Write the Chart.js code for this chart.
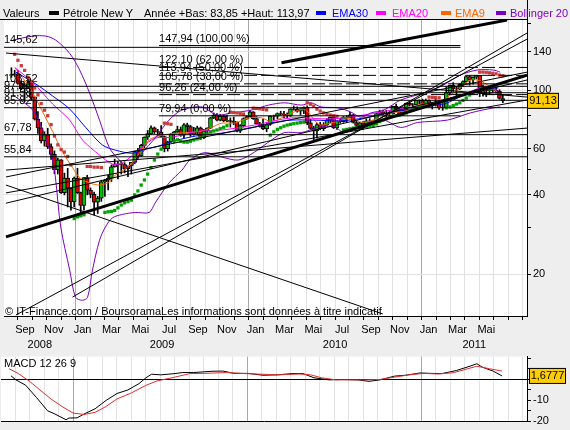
<!DOCTYPE html>
<html>
<head>
<meta charset="utf-8">
<script src="https://cdn.jsdelivr.net/npm/chart.js@4.4.1/dist/chart.umd.min.js"></script>
<style>
  body { margin: 0; background: #eeeeee; font-family: "Liberation Sans", Arial, sans-serif; }
  #wrap { position: relative; width: 570px; height: 430px; overflow: hidden; }
  canvas { position: absolute; left: 0; }
  .lg { position: absolute; top: 7px; font-size: 11px; line-height: 12px; white-space: nowrap; }
  .sw { position: absolute; top: 11px; width: 10px; height: 4px; }
</style>
</head>
<body>
<div id="wrap">
  <canvas id="main" width="570" height="352" style="top:0;width:570px;height:352px"></canvas>
  <canvas id="macd" width="570" height="82" style="top:348px;width:570px;height:82px"></canvas>

  <div class="lg" style="left:3px">Valeurs</div>
  <div class="sw" style="left:49px;background:#000"></div>
  <div class="lg" style="left:63px">Pétrole New Y</div>
  <div class="lg" style="left:144px">Année +Bas: 83,85 +Haut: 113,97</div>
  <div class="sw" style="left:316px;background:#0000ff"></div>
  <div class="lg" style="left:332px;color:#0000ff">EMA30</div>
  <div class="sw" style="left:376px;background:#ff00ff"></div>
  <div class="lg" style="left:392px;color:#ff00ff">EMA20</div>
  <div class="sw" style="left:441px;background:#ff6600"></div>
  <div class="lg" style="left:455px;color:#ff6600">EMA9</div>
  <div class="sw" style="left:496px;background:#8000c0"></div>
  <div class="lg" style="left:510px;color:#8000c0">Bollinger 20 2</div>

  <div class="lg" style="left:5px;top:305px">© IT-Finance.com / BoursoramaLes informations sont données à titre indicatif</div>
  <div class="lg" style="left:4px;top:357px">MACD 12 26 9</div>
</div>

<script>
// weekly candles, first one on the week of 18 Aug 2008
const weekStart = [2008, 7, 18];
const opens = [113.8,114.6,115.5,106.2,101.2,104.6,106.9,93.9,77.7,71.9,
  64.2,67.8,61.0,57.0,49.9,54.4,40.8,46.3,42.4,37.7,
  46.3,40.8,36.5,46.5,41.7,40.2,37.5,38.9,44.8,45.5,
  46.3,51.1,52.4,52.5,52.2,50.3,51.6,53.2,58.6,56.3,
  61.7,66.3,68.4,72.0,69.6,69.2,66.7,59.9,63.6,68.1,
  69.5,70.9,67.5,73.9,72.7,68.0,69.3,72.0,66.0,69.9,
  71.8,78.5,80.5,77.0,79.6,76.4,76.7,76.1,75.5,69.9,
  73.4,78.1,79.4,82.8,78.0,74.5,72.9,71.2,74.1,79.8,
  79.7,81.5,81.2,80.7,80.0,84.9,84.6,83.2,85.1,86.2,
  75.1,71.6,70.0,74.0,71.5,73.8,77.2,78.9,72.1,76.1,
  76.0,79.0,78.9,80.7,75.4,73.5,75.2,74.6,76.5,73.7,
  76.5,81.6,82.7,81.3,81.7,81.4,86.9,84.9,81.5,83.8,
  89.2,87.8,88.0,91.5,91.4,88.0,91.5,89.1,89.3,89.0,
  85.6,86.2,97.9,104.4,101.2,101.1,105.4,107.9,112.8,109.7,
  112.3,113.9,97.2,99.7,99.5,100.6,100.2,99.3,93.0];
const highs = [121.8,119.2,119.0,108.5,106.0,112.0,107.0,94.5,83.0,75.5,
  69.5,71.7,62.5,58.8,55.2,54.5,48.4,50.5,42.5,46.8,
  50.5,41.0,46.5,47.5,42.5,41.0,39.5,45.5,45.8,47.5,
  52.0,54.7,53.5,53.5,53.0,51.5,52.5,58.7,60.1,62.3,
  66.5,70.3,73.2,72.5,71.0,73.4,67.0,64.0,68.5,69.8,
  73.0,72.5,74.7,75.0,73.5,72.3,73.0,72.5,71.0,72.0,
  78.9,82.0,81.6,81.0,80.5,80.5,78.5,79.0,75.8,74.0,
  78.5,79.8,83.9,82.9,79.4,75.5,77.5,75.0,80.0,80.5,
  82.0,83.2,83.2,82.0,85.0,87.1,86.5,85.2,86.5,87.2,
  77.5,73.0,75.0,75.5,75.3,78.0,79.0,79.0,76.5,78.3,
  79.5,80.0,82.5,81.0,76.5,75.5,76.0,77.8,78.0,77.0,
  81.8,84.0,84.0,84.0,83.5,87.0,88.6,85.5,84.2,89.5,
  90.8,89.0,91.6,92.0,92.6,92.6,92.0,89.5,92.2,89.5,
  89.0,103.4,104.7,106.9,103.0,106.0,108.5,113.0,113.5,112.5,
  113.97,113.9,104.6,101.5,101.5,103.4,102.4,100.5,96.0];
const lows = [112.0,113.0,105.5,100.5,90.5,101.5,91.5,77.0,68.5,63.0,
  61.3,60.0,54.6,48.2,48.0,40.5,40.0,36.0,35.0,36.0,
  40.5,33.2,35.0,40.0,39.0,33.6,34.0,37.8,39.5,41.8,
  45.0,51.0,46.0,48.0,48.5,46.9,48.0,52.5,55.0,56.0,
  60.5,65.0,68.0,68.5,67.0,66.5,58.3,58.7,63.3,63.0,
  69.0,66.8,65.8,69.6,66.8,67.5,68.0,65.0,65.5,68.5,
  71.5,78.0,76.5,76.5,75.9,76.0,72.4,74.0,69.5,69.0,
  72.5,77.5,79.2,77.5,74.3,72.4,70.8,69.5,73.5,77.0,
  78.0,80.5,78.5,78.7,79.5,84.0,82.5,80.6,81.5,74.0,
  71.0,64.2,65.8,70.8,70.2,73.5,75.3,71.5,71.0,75.0,
  75.5,75.5,78.5,75.0,73.0,70.8,71.0,73.5,73.2,73.0,
  76.0,81.0,80.5,78.5,80.0,81.0,84.0,80.0,80.5,83.5,
  87.0,86.5,88.0,88.5,87.2,87.5,86.8,84.8,87.0,84.5,
  83.85,86.0,96.5,99.0,95.4,100.5,103.5,106.5,104.5,105.5,
  110.5,94.6,95.0,94.6,96.4,98.0,97.5,92.5,89.7];
const closes = [114.6,115.5,106.2,101.2,104.6,106.9,93.9,77.7,71.9,64.2,
  67.8,61.0,57.0,49.9,54.4,40.8,46.3,42.4,37.7,46.3,
  40.8,36.5,46.5,41.7,40.2,37.5,38.9,44.8,45.5,46.3,
  51.1,52.4,52.5,52.2,50.3,51.6,53.2,58.6,56.3,61.7,
  66.3,68.4,72.0,69.6,69.2,66.7,59.9,63.6,68.1,69.5,
  70.9,67.5,73.9,72.7,68.0,69.3,72.0,66.0,69.9,71.8,
  78.5,80.5,77.0,79.6,76.4,76.7,76.1,75.5,69.9,73.4,
  78.1,79.4,82.8,78.0,74.5,72.9,71.2,74.1,79.8,79.7,
  81.5,81.2,80.7,80.0,84.9,84.6,83.2,85.1,86.2,75.1,
  71.6,70.0,74.0,71.5,73.8,77.2,78.9,72.1,76.1,76.0,
  79.0,78.9,80.7,75.4,73.5,75.2,74.6,76.5,73.7,76.5,
  81.6,82.7,81.3,81.7,81.4,86.9,84.9,81.5,83.8,89.2,
  87.8,88.0,91.5,91.4,88.0,91.5,89.1,89.3,89.0,85.6,
  86.2,97.9,104.4,101.2,101.1,105.4,107.9,112.8,109.7,112.3,
  113.9,97.2,99.7,99.5,100.6,100.2,99.3,93.0,91.13];

// parabolic SAR, one value per candle (null = no dot)
const sar = [null,
  137,130,124,119,112,108,102,96,89,84,80,74,67,62,59.5,58.2,56,52,
  32.5,33.0,33.3,33.6,
  51.3,51.3,51.0,51.0,50.8,
  34.3,34.5,34.6,34.9,35.7,36.6,37.3,37.7,38.2,40.0,41.4,43.6,45.6,48.0,50.8,54.3,57.2,59.7,
  75,74.6,74.2,
  64.2,64.8,64.0,63.5,63.5,64.0,64.7,65.3,65.8,67.3,68.2,69.3,70.0,70.6,71.5,72.3,73.3,
  82.5,82.3,82.0,81.6,81.2,
  null,null,
  85.5,85.3,85.0,84.6,84.2,
  67.5,69.5,71.0,72.0,73.0,73.7,74.2,74.6,75.0,75.3,75.6,
  89.6,88.5,87.0,84.8,83.3,82.0,81.2,80.5,80.0,79.6,
  null,
  70.6,71.0,71.4,71.8,72.0,72.3,72.6,72.9,73.1,73.3,74.5,76.0,77.0,78.0,79.0,79.6,80.0,80.4,81.0,82.0,83.5,84.3,85.0,86.0,87.0,
  null,
  94.2,94.0,93.8,93.6,
  null,
  85.7,86.4,87.5,88.6,89.6,91.5,93.4,95.9,97.6,99.5,
  117.2,117.2,117.0,116.5,116.0,115.5,114.2,113.5];

// indicators, x in months from Jan 2009
const ema30M = [-4.14,-2.76,-1.59,-0.41,0.69,1.86,2.76,3.93,4.83,5.66,6.69,7.86,8.76,10.14,12.41,13.79,14.97,16.55,18.41,20.0,22.34,24.62,25.79,27.17,28.07,29.31];
const ema30V = [117.2,105.6,95.1,84.8,72.3,61.9,59.2,57.6,59.6,61.1,63.8,66.2,67.5,68.7,72.3,75.5,77.0,77.0,76.5,78.5,83.3,87.1,89.6,97.6,101.1,102.0];
const ema20M = [-4.21,-2.97,-1.59,-0.41,0.48,1.66,2.55,3.24,4.62,5.52,6.69,8.28,10.14,12.41,14.97,17.72,20.0,22.55,24.62,26.69,28.07,29.24];
const ema20V = [121.9,107.2,88.6,77.0,64.7,56.7,52.4,52.9,60.8,65.8,66.2,69.6,70.6,73.7,78.5,77.8,80.5,85.2,87.8,95.0,102.0,100.2];
const ema9M = [-4.21,-3.17,-2.28,-1.59,-0.9,-0.21,0.28,0.97,1.66,2.34,2.76,3.24,3.72,4.41,5.1,6.0,7.17,8.55,9.45,10.14,11.03,12.0,12.9,13.6,15.0,15.9,16.9,17.9,19.0,19.9,21.0,22.0,23.0,23.9,25.0,25.79,26.69,27.38,28.07,28.76,29.24];
const ema9V = [121.9,102.0,82.6,69.6,58.2,50.8,46.5,44.4,43.6,44.8,47.6,49.5,51.5,57.5,64.7,67.5,68.7,69.6,72.3,75.0,75.0,78.5,78.5,76.0,82.0,84.5,74.0,75.5,78.0,75.5,78.0,82.0,84.0,88.5,88.0,94.2,102.0,109.4,108.5,102.9,98.6];
const bbUpM = [-4.34,-2.97,-2.07,-1.38,-0.41,0.28,0.97,1.66,2.34,3.03,3.72,4.62,5.52,6.48,7.38,8.76,9.79,10.83,12.21,13.38,14.48,15.66,16.34,17.03,18.21,19.1,19.79,20.48,21.38,22.55,24.14,25.31,26.69,27.86,28.97,29.45];
const bbUpV = [155.2,160.7,160.7,155.2,138.1,119.4,97.6,77.0,60.5,54.3,50.8,57.9,65.8,77.0,84.1,86.4,80.5,82.0,84.1,87.8,89.6,87.8,89.6,86.4,85.7,82.6,79.0,82.0,84.1,91.8,97.6,103.2,114.2,119.4,119.4,117.2];
const bbLoM = [-4.34,-2.97,-2.28,-1.59,-1.38,-1.03,-0.41,0,0.48,0.83,1.17,1.66,2.07,2.55,3.24,4.14,5.1,5.52,6.48,7.38,7.93,8.97,10.14,11.31,12.41,13.59,14.48,15.66,16.83,17.93,18.62,19.59,20.48,21.38,22.55,23.72,25.79,27.38,28.97,29.45];
const bbLoV = [95.9,84.1,70.6,54.3,45.6,30.2,20.7,16.3,15.9,16.3,20.7,26.9,30.2,32.7,33.7,34.3,34.3,37.3,44.4,49.7,54.3,57.9,55.7,54.3,58.2,64.7,69.0,69.0,72.2,72.8,69.0,72.8,75.4,77.0,72.2,75.4,77.0,82.0,85.7,86.4];

// MACD panel
const macdM = [-4.28,-3.93,-3.27,-2.52,-1.76,-1.24,-0.48,-0.28,0.28,0.76,1.52,2.28,3.03,3.79,4.55,5.03,5.42,6.06,7.03,7.57,8.32,9.59,10.34,11.1,12.07,13.1,14.12,15.1,15.86,16.62,17.66,18.62,19.66,20.41,21.17,22.18,22.94,23.93,24.69,25.45,26.46,27.45,27.85,28.21,28.97,29.59];
const macdV = [1.76,-0.24,-2.7,-8.6,-14.9,-16.5,-19.2,-18.4,-18.3,-16.5,-14.0,-10.0,-6.7,-5.0,-2.0,0.8,2.5,2.2,2.8,3.3,3.3,3.9,4.0,2.9,2.9,2.0,2.2,2.8,2.8,0.8,-0.2,0.0,-0.2,-0.9,-0.2,1.6,2.0,3.1,2.9,2.8,4.3,6.5,7.5,5.9,4.0,1.6777];
const signalM = [-4.41,-3.79,-3.03,-2.28,-1.52,-0.76,0,0.76,1.52,2.28,3.03,4.03,5.03,5.79,6.83,8.07,9.08,10.59,11.59,12.62,14.12,15.63,16.39,17.14,18.14,19.17,20.14,21.17,22.18,23.17,24.21,25.17,26.21,27.22,27.85,28.73,29.59];
const signalV = [5.1,2.9,-0.7,-5.0,-9.3,-12.9,-16.0,-16.7,-15.7,-12.9,-9.3,-6.4,-2.8,-0.7,0.8,2.8,2.9,3.3,2.9,2.6,2.2,2.6,2.2,0.8,-0.2,-0.2,-0.2,0.0,1.1,2.2,2.9,2.6,3.2,5.1,6.3,5.1,4.0];

// drawn objects: Fibonacci, levels, trend lines [x1, v1, x2, v2]
const fibLevels = [147.94, 122.10, 113.94, 105.78, 96.26, 79.94];
const fibPercents = [100, 62, 50, 38, 24, 0];
const fibFrom = 5.79, fibTo = 26.69;
const levelValues = [145.62, 103.52, 97.84, 91.58, 85.82, 67.78, 55.84];
const thickLines = [[-4.83, 27.7, 31.31, 114.2], [14.28, 127.2, 29.93, 184.9]];
const thinLines = [
  [-4.14, 13.97, 31.31, 156.5], [-0.21, 16.35, 31.31, 165.0], [-4.83, 43.6, 21.31, 14.1],
  [-4.83, 49.7, 31.31, 71.8], [-4.83, 46.8, 31.31, 117.2], [-4.83, 40.7, 31.31, 91.8],
  [-4.83, 37.2, 31.31, 109.4], [-4.83, 138.5, 31.31, 94.2]];

const monthNames = ['Jan','','Mar','','Mai','','Jul','','Sep','','Nov',''];
const years = [2008, 2009, 2010, 2011];
const yTicks = [20, 30, 40, 50, 60, 80, 100, 140, 180];
const yLabelled = [20, 40, 60, 100, 140];
const macdTicks = [-20, -15, -10, -5, 0, 5, 10];
const macdLabelled = [-20, -10];

const xMin = -4.966, xMax = 31.31;
const FONT = '"Liberation Sans", Arial, sans-serif';
Chart.defaults.font.family = FONT;
Chart.defaults.font.size = 11;
Chart.defaults.color = '#000';

function monthPos(d) {
  const y = d.getUTCFullYear(), mo = d.getUTCMonth();
  const days = new Date(Date.UTC(y, mo + 1, 0)).getUTCDate();
  return (y - 2009) * 12 + mo + (d.getUTCDate() - 1) / days;
}
const fmt = (v, n) => v.toFixed(n).replace('.', ',');
const candleX = closes.map((_, i) => monthPos(new Date(Date.UTC(weekStart[0], weekStart[1], weekStart[2] + 7 * i))));
const lastX = candleX[candleX.length - 1];

const bodyColors = closes.map((c, i) => c >= opens[i] ? '#00c000' : '#e00000');
const sarPts = [], sarColors = [];
sar.forEach((v, i) => {
  if (v === null) return;
  sarPts.push({ x: candleX[i], y: v });
  sarColors.push(v > closes[i] ? '#c83c3c' : '#00a000');
});

function curve(ms, vs, color) {
  return { type: 'line', data: ms.map((m, i) => ({ x: m, y: vs[i] })), borderColor: color,
    borderWidth: 1, pointRadius: 0, tension: 0.3, order: 8 };
}
function seg(x1, v1, x2, v2, width, dash) {
  return { type: 'line', data: [{ x: x1, y: v1 }, { x: x2, y: v2 }], borderColor: '#000',
    borderWidth: width, borderDash: dash || [], pointRadius: 0, order: 2 };
}

const datasets = [
  { type: 'bar', data: candleX.map((x, i) => ({ x, y: [lows[i], highs[i]] })), backgroundColor: '#000',
    barThickness: 1, grouped: false, order: 20 },
  { type: 'bar', data: candleX.map((x, i) => ({ x, y: [opens[i], closes[i]] })), backgroundColor: bodyColors,
    borderColor: '#000', borderWidth: 1, borderSkipped: false, barThickness: 4, grouped: false, order: 19 },
  curve(bbUpM, bbUpV, '#8000c0'),
  curve(bbLoM, bbLoV, '#8000c0'),
  curve(ema30M, ema30V, '#0000ff'),
  curve(ema20M, ema20V, '#ff00ff'),
  curve(ema9M, ema9V, '#ff6600'),
  { type: 'line', data: sarPts, showLine: false, pointStyle: 'rect', pointRadius: 2.3,
    pointBackgroundColor: sarColors, pointBorderWidth: 0, order: 7 }
];
fibLevels.forEach((v, i) => {
  const solid = fibPercents[i] === 100 || fibPercents[i] === 0;
  datasets.push(seg(fibFrom, v, solid ? fibTo : xMax, v, 1, solid ? [] : [13, 4]));
});
levelValues.forEach((v, i) => datasets.push(seg(xMin, v, i === 0 ? fibTo : xMax, v, 1)));
thinLines.forEach(l => datasets.push(seg(l[0], l[1], l[2], l[3], 1)));
thickLines.forEach(l => datasets.push(seg(l[0], l[1], l[2], l[3], 3)));

const monthTicks = [];
for (let m = -4; m <= 31; m++) monthTicks.push(m);
const monthLabel = m => (m > lastX ? '' : monthNames[((m % 12) + 12) % 12]);
const gridX = c => (c.tick && c.tick.value % 12 === 0) ? '#a8a8a8' : '#e2e2e2';

function yellowBox(ctx, x, yc, w, text) {
  ctx.fillStyle = '#ffcc00';
  ctx.fillRect(x, yc - 8, w, 16);
  ctx.strokeStyle = '#000';
  ctx.lineWidth = 1;
  ctx.strokeRect(x + 0.5, yc - 7.5, w - 1, 15);
  ctx.fillStyle = '#000';
  ctx.font = '11px ' + FONT;
  ctx.textAlign = 'center';
  ctx.textBaseline = 'middle';
  ctx.fillText(text, x + w / 2, yc + 0.5);
}

const mainDecor = {
  id: 'mainDecor',
  beforeDraw(chart) {
    const { ctx, chartArea: a } = chart;
    ctx.save();
    ctx.fillStyle = '#ffffff';
    ctx.fillRect(a.left, a.top, a.right - a.left, a.bottom - a.top);
    ctx.restore();
  },
  afterDraw(chart) {
    const { ctx, chartArea: a, scales: { x, y } } = chart;
    ctx.save();
    ctx.strokeStyle = '#000';
    ctx.lineWidth = 1;
    ctx.beginPath();
    ctx.moveTo(0, 19.5); ctx.lineTo(a.right, 19.5);
    ctx.moveTo(a.right + 0.5, 0); ctx.lineTo(a.right + 0.5, 20);
    ctx.stroke();

    ctx.fillStyle = '#000';
    ctx.font = '11px ' + FONT;
    ctx.textAlign = 'left';
    ctx.textBaseline = 'alphabetic';
    const fx = x.getPixelForValue(fibFrom);
    fibLevels.forEach((v, i) => {
      ctx.fillText(fmt(v, 2) + ' (' + fmt(fibPercents[i], 2) + ' %)', fx, y.getPixelForValue(v) - 4);
    });
    levelValues.forEach(v => ctx.fillText(fmt(v, 2), 4, y.getPixelForValue(v) - 4));

    ctx.textAlign = 'center';
    ctx.textBaseline = 'middle';
    years.forEach(yr => {
      const s = Math.max(xMin, (yr - 2009) * 12), e = Math.min(xMax, (yr - 2008) * 12);
      ctx.fillText(String(yr), (x.getPixelForValue(s) + x.getPixelForValue(e)) / 2, 345);
    });

    const last = closes[closes.length - 1];
    yellowBox(ctx, a.right, y.getPixelForValue(last), 32, fmt(last, 2));
    ctx.restore();
  }
};

new Chart(document.getElementById('main'), {
  type: 'bar',
  data: { datasets },
  options: {
    responsive: false, animation: false, devicePixelRatio: 1, events: [],
    layout: { padding: { left: 1, top: 20, right: 0, bottom: 0 } },
    plugins: { legend: { display: false }, tooltip: { enabled: false } },
    scales: {
      x: {
        type: 'linear', min: xMin, max: xMax, offset: false,
        afterFit: s => { s.height = 36; },
        afterBuildTicks: s => { s.ticks = monthTicks.map(v => ({ value: v })); },
        ticks: { autoSkip: false, maxRotation: 0, labelOffset: 7, padding: 3, callback: v => monthLabel(v) },
        grid: { offset: false, color: gridX, tickColor: '#000', tickLength: 4 },
        border: { color: '#000' }
      },
      y: {
        type: 'logarithmic', position: 'right', min: 13.85, max: 185,
        afterFit: s => { s.width = 43; },
        afterBuildTicks: s => { s.ticks = yTicks.map(v => ({ value: v })); },
        ticks: { autoSkip: false, padding: 2, callback: v => yLabelled.includes(v) ? String(v) : '' },
        grid: { color: c => (c.tick && yLabelled.includes(c.tick.value)) ? '#e2e2e2' : 'rgba(0,0,0,0)',
                tickColor: '#000', tickLength: 4 },
        border: { color: '#000' }
      }
    }
  },
  plugins: [mainDecor]
});

const macdDecor = {
  id: 'macdDecor',
  beforeDraw(chart) {
    const { ctx, chartArea: a } = chart;
    ctx.save();
    ctx.fillStyle = '#ffffff';
    ctx.fillRect(a.left, a.top, a.right - a.left, a.bottom - a.top);
    ctx.restore();
  },
  afterDraw(chart) {
    const { ctx, chartArea: a, scales: { y } } = chart;
    ctx.save();
    const last = macdV[macdV.length - 1];
    yellowBox(ctx, a.right + 2, y.getPixelForValue(last), 37, fmt(last, 4));
    ctx.restore();
  }
};

new Chart(document.getElementById('macd'), {
  type: 'line',
  data: {
    datasets: [
      { data: signalM.map((m, i) => ({ x: m, y: signalV[i] })), borderColor: '#e03030', borderWidth: 1, pointRadius: 0 },
      { data: macdM.map((m, i) => ({ x: m, y: macdV[i] })), borderColor: '#000', borderWidth: 1, pointRadius: 0 }
    ]
  },
  options: {
    responsive: false, animation: false, devicePixelRatio: 1, events: [],
    layout: { padding: { left: 1, top: 2.5, right: 0, bottom: 1.2 } },
    plugins: { legend: { display: false }, tooltip: { enabled: false } },
    scales: {
      x: {
        type: 'linear', min: xMin, max: xMax, offset: false,
        afterFit: s => { s.height = 0; },
        afterBuildTicks: s => { s.ticks = monthTicks.map(v => ({ value: v })); },
        ticks: { display: false },
        grid: { color: gridX, drawTicks: false },
        border: { color: '#000' }
      },
      y: {
        position: 'right', min: -20, max: 10.9,
        afterFit: s => { s.width = 43; },
        afterBuildTicks: s => { s.ticks = macdTicks.map(v => ({ value: v })); },
        ticks: { autoSkip: false, padding: 2, callback: v => macdLabelled.includes(v) ? String(v) : '' },
        grid: { color: c => (c.tick && c.tick.value === 0) ? '#000' : 'rgba(0,0,0,0)', tickColor: '#000', tickLength: 4 },
        border: { color: '#000' }
      }
    }
  },
  plugins: [macdDecor]
});
</script>
</body>
</html>
